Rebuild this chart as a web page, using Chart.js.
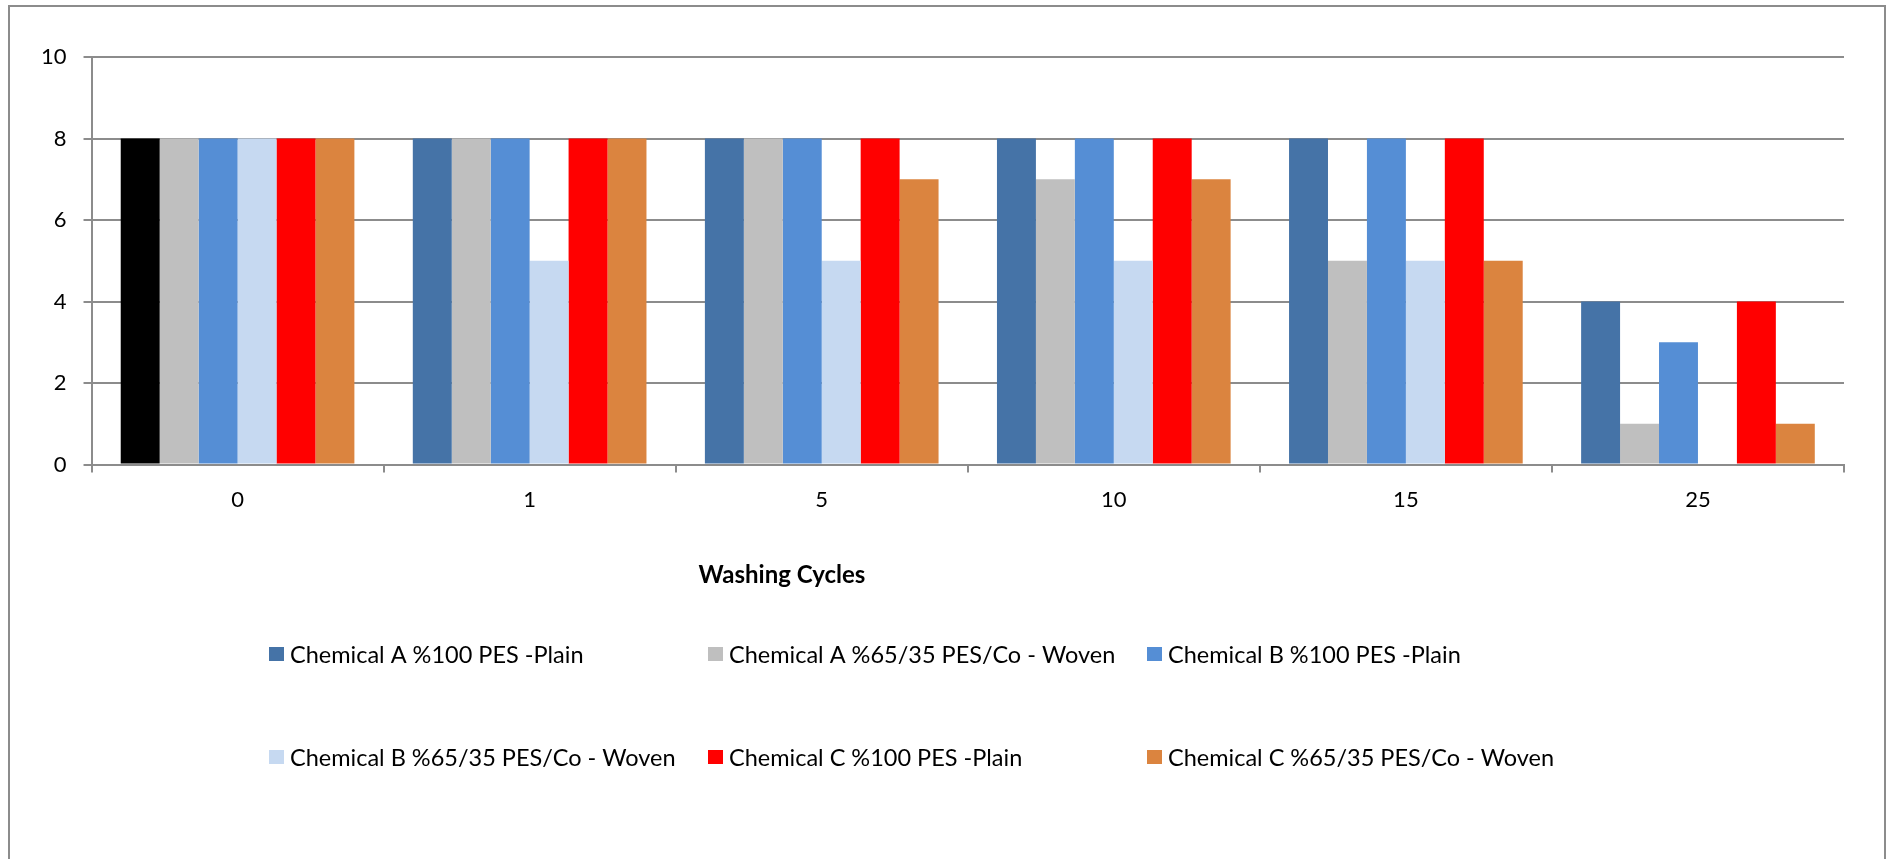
<!DOCTYPE html>
<html>
<head>
<meta charset="utf-8">
<script src="https://cdn.jsdelivr.net/npm/chart.js@4/dist/chart.umd.min.js"></script>
<style>
  html, body { margin: 0; padding: 0; background: #fff; overflow: hidden; }
  #wrap { position: relative; width: 1890px; height: 859px; }
</style>
</head>
<body>
<div id="wrap"><canvas id="c" width="1890" height="859"></canvas></div>
<script>
// Washing cycles on the category axis
const cycles = ['0', '1', '5', '10', '15', '25'];

// Rating per fabric / chemical after each number of washes
const chemA_PES100 = [8, 8, 8, 8, 8, 4];
const chemA_PESCo = [8, 8, 8, 7, 5, 1];
const chemB_PES100 = [8, 8, 8, 8, 8, 3];
const chemB_PESCo = [8, 5, 5, 5, 5, 0];
const chemC_PES100 = [8, 8, 8, 8, 8, 4];
const chemC_PESCo = [8, 8, 7, 7, 5, 1];

const seriesNames = [
  'Chemical A %100 PES -Plain',
  'Chemical A %65/35 PES/Co - Woven',
  'Chemical B %100 PES -Plain',
  'Chemical B %65/35 PES/Co - Woven',
  'Chemical C %100 PES -Plain',
  'Chemical C %65/35 PES/Co - Woven'
];
const seriesValues = [chemA_PES100, chemA_PESCo, chemB_PES100, chemB_PESCo, chemC_PES100, chemC_PESCo];
const seriesColors = ['#4573A7', '#BFBFBF', '#558ED5', '#C6D9F1', '#FF0000', '#DB843F'];

const yTicks = [0, 2, 4, 6, 8, 10];

const FONT = 'Lato, "Open Sans", sans-serif';

// first bar of the first series is shown in black
function barColors(i) {
  const c = seriesValues[i].map(() => seriesColors[i]);
  if (i === 0) c[0] = '#000000';
  return c;
}

const datasets = seriesNames.map((name, i) => ({
  label: name,
  data: seriesValues[i],
  backgroundColor: barColors(i),
  legendColor: seriesColors[i],
  borderWidth: 0,
  categoryPercentage: 0.8,
  barPercentage: 1.0
}));

// outer frame, axis title and a grid-aligned legend
const decorations = {
  id: 'decorations',
  afterDraw(chart) {
    const ctx = chart.ctx;
    ctx.save();
    // frame
    ctx.strokeStyle = '#8C8C8C';
    ctx.lineWidth = 2;
    ctx.beginPath();
    ctx.moveTo(9, 900);
    ctx.lineTo(9, 6);
    ctx.lineTo(1885, 6);
    ctx.lineTo(1885, 900);
    ctx.stroke();

    // axis title
    ctx.fillStyle = '#000';
    ctx.font = 'bold 24px ' + FONT;
    ctx.textAlign = 'center';
    ctx.textBaseline = 'middle';
    ctx.fillText('Washing Cycles', 782, 575);

    // legend: three columns, two rows
    const colX = [269, 708, 1147];
    const rowY = [654, 757];
    ctx.font = '23.5px ' + FONT;
    ctx.textAlign = 'left';
    chart.data.datasets.forEach((ds, i) => {
      const x = colX[i % 3];
      const y = rowY[Math.floor(i / 3)];
      ctx.fillStyle = ds.legendColor;
      ctx.fillRect(x, y - 7, 15, 14);
      ctx.fillStyle = '#000';
      ctx.fillText(ds.label, x + 21, y + 1);
    });
    ctx.restore();
  }
};

new Chart(document.getElementById('c'), {
  type: 'bar',
  data: { labels: cycles, datasets },
  options: {
    responsive: false,
    animation: false,
    layout: { padding: { left: 24, right: 46, top: 57, bottom: 332 } },
    plugins: {
      legend: { display: false },
      tooltip: { enabled: false }
    },
    scales: {
      x: {
        grid: {
          drawOnChartArea: false,
          drawTicks: true,
          tickLength: 8,
          color: '#8C8C8C',
          lineWidth: 2
        },
        border: { display: true, color: '#8C8C8C', width: 2 },
        ticks: {
          color: '#000',
          font: { family: FONT, size: 22 },
          padding: 14
        }
      },
      y: {
        min: 0,
        max: 10,
        afterBuildTicks(scale) { scale.ticks = yTicks.map(v => ({ value: v })); },
        grid: {
          color: '#8C8C8C',
          lineWidth: 2,
          tickLength: 8,
          drawTicks: true
        },
        border: { display: true, color: '#8C8C8C', width: 2 },
        ticks: {
          color: '#000',
          font: { family: FONT, size: 22 },
          padding: 17
        }
      }
    }
  },
  plugins: [decorations]
});
</script>
</body>
</html>
